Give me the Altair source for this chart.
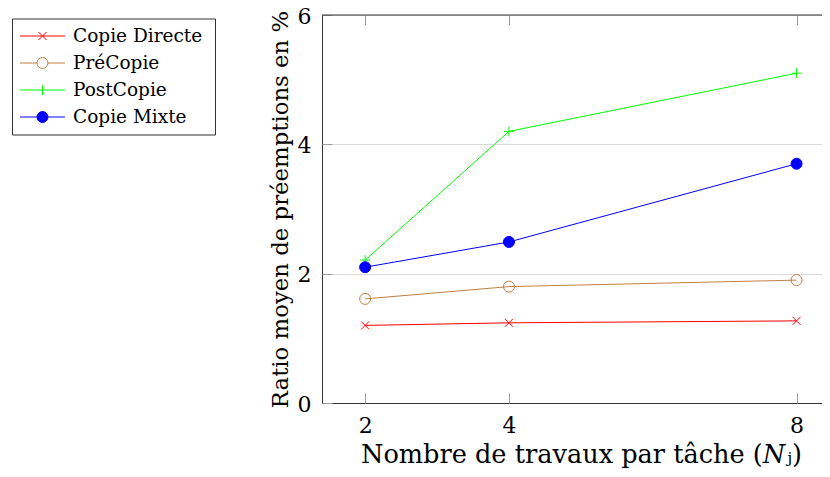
import altair as alt
import pandas as pd

FONT = "DejaVu Serif"

series = ["Copie Directe", "PréCopie", "PostCopie", "Copie Mixte"]
n_jobs = [2, 4, 8]
copie_directe = [1.20, 1.24, 1.27]
precopie = [1.61, 1.80, 1.90]
postcopie = [2.21, 4.20, 5.10]
copie_mixte = [2.10, 2.49, 3.70]
colors = ["#ff0000", "#bf8040", "#00ff00", "#0000ff"]
fills = ["transparent", "transparent", "transparent", "#0000ff"]
x_ticks = [2, 4, 8]
y_ticks = [0, 2, 4, 6]

rows = []
for name, vals in zip(series, [copie_directe, precopie, postcopie, copie_mixte]):
    for n, v in zip(n_jobs, vals):
        rows.append({"series": name, "N": n, "ratio": v})
df = pd.DataFrame(rows)

# marker glyphs (unit square paths)
marker_paths = [
    "M-0.73,-0.73L0.73,0.73M-0.73,0.73L0.73,-0.73",
    "circle",
    "M-0.9,0H0.9M0,-0.9V0.9",
    "circle",
]
c = "M0.244,0A0.244,0.244 0 1,1 -0.244,0A0.244,0.244 0 1,1 0.244,0Z"
legend_paths = [
    "M-1,0H1M-0.178,-0.178L0.178,0.178M-0.178,0.178L0.178,-0.178",
    "M-1,0H-0.244M0.244,0H1" + c,
    "M-1,0H1M0,-0.222V0.222",
    "M-1,0H1" + c,
]

xscale = alt.Scale(domain=[1.4, 8.354], nice=False, zero=False)
yscale = alt.Scale(domain=[0, 6], nice=False)


def tick_axis(orient):
    vals = x_ticks if orient in ("bottom", "top") else y_ticks
    return alt.Axis(orient=orient, offset=-10, values=vals, labels=False,
                    domain=False, grid=False, ticks=True, tickSize=10,
                    tickColor="#9a9a9a", tickWidth=1, title=None)


x_main = alt.Axis(orient="bottom", values=x_ticks, format="d", labelFont=FONT,
                  labelFontSize=22, labelColor="black", labelPadding=12,
                  labelFlush=False, ticks=False, tickSize=0, domain=True,
                  domainColor="#333333", domainWidth=1, grid=False,
                  title="Nombre de travaux par tâche (𝑁ⱼ)", titleFont=FONT,
                  titleFontSize=25.6, titleFontWeight="normal", titleColor="black",
                  titlePadding=6.5, titleX=259)
y_main = alt.Axis(orient="left", values=y_ticks, format="d", labelFont=FONT,
                  labelFontSize=22, labelColor="black", labelPadding=11,
                  labelOffset=1,
                  ticks=False, tickSize=0, domain=True, domainColor="#333333",
                  domainWidth=1, grid=True, gridColor="#d9d9d9", gridWidth=1,
                  title="Ratio moyen de préemptions en %", titleFont=FONT,
                  titleFontSize=22.8, titleFontWeight="normal", titleColor="black",
                  titlePadding=5)

lines = alt.Chart(df).mark_line(strokeWidth=1).encode(
    x=alt.X("N:Q", scale=xscale, axis=x_main),
    y=alt.Y("ratio:Q", scale=yscale, axis=y_main),
    color=alt.Color("series:N", scale=alt.Scale(domain=series, range=colors), legend=None),
)

points = alt.Chart(df).mark_point(size=121, strokeWidth=1, opacity=1).encode(
    x=alt.X("N:Q", scale=xscale, axis=tick_axis("bottom")),
    y=alt.Y("ratio:Q", scale=yscale, axis=tick_axis("left")),
    stroke=alt.Stroke("series:N", scale=alt.Scale(domain=series, range=colors), legend=None),
    fill=alt.Fill("series:N", scale=alt.Scale(domain=series, range=fills), legend=None),
    shape=alt.Shape("series:N", scale=alt.Scale(domain=series, range=marker_paths), legend=None),
)

# blank title on the right only widens the framed box, as in the reference
leg = alt.Legend(orient="none", legendX=-310, legendY=3.5, title="\u00a0",
                 titleOrient="right", titleColor="white", titleFontSize=12,
                 titlePadding=8.5,
                 direction="vertical", symbolSize=2025, symbolStrokeWidth=1,
                 clipHeight=27, rowPadding=0, padding=4, symbolOffset=3.5,
                 labelOffset=7.5, labelFont=FONT, labelFontSize=18.5,
                 labelColor="black", strokeColor="#333333", fillColor="white")

legend_layer = alt.Chart(df).transform_filter("false").mark_point(opacity=1, strokeWidth=1).encode(
    x=alt.X("N:Q", scale=xscale, axis=tick_axis("top")),
    y=alt.Y("ratio:Q", scale=yscale, axis=None),
    stroke=alt.Stroke("series:N", scale=alt.Scale(domain=series, range=colors), legend=leg),
    fill=alt.Fill("series:N", scale=alt.Scale(domain=series, range=fills), legend=leg),
    shape=alt.Shape("series:N", scale=alt.Scale(domain=series, range=legend_paths), legend=leg),
)

border = alt.Chart(pd.DataFrame({"top": [y_ticks[-1]]})).mark_rule(
    color="#333333", strokeWidth=1).encode(
    y=alt.Y("top:Q", scale=yscale, axis=None))

chart = alt.layer(lines, points, legend_layer, border).resolve_scale(
    shape="independent", stroke="independent", fill="independent"
).resolve_axis(x="independent", y="independent").properties(
    width=500, height=388,
    autosize=alt.AutoSizeParams(type="none"),
    padding={"left": 314, "top": 7, "right": 0, "bottom": 66},
).configure(font=FONT).configure_view(stroke="transparent").configure_legend(
    labelFont=FONT, labelFontSize=18.5, labelColor="black")

chart.save("out.html", embed_options={"renderer": "svg", "actions": False})
